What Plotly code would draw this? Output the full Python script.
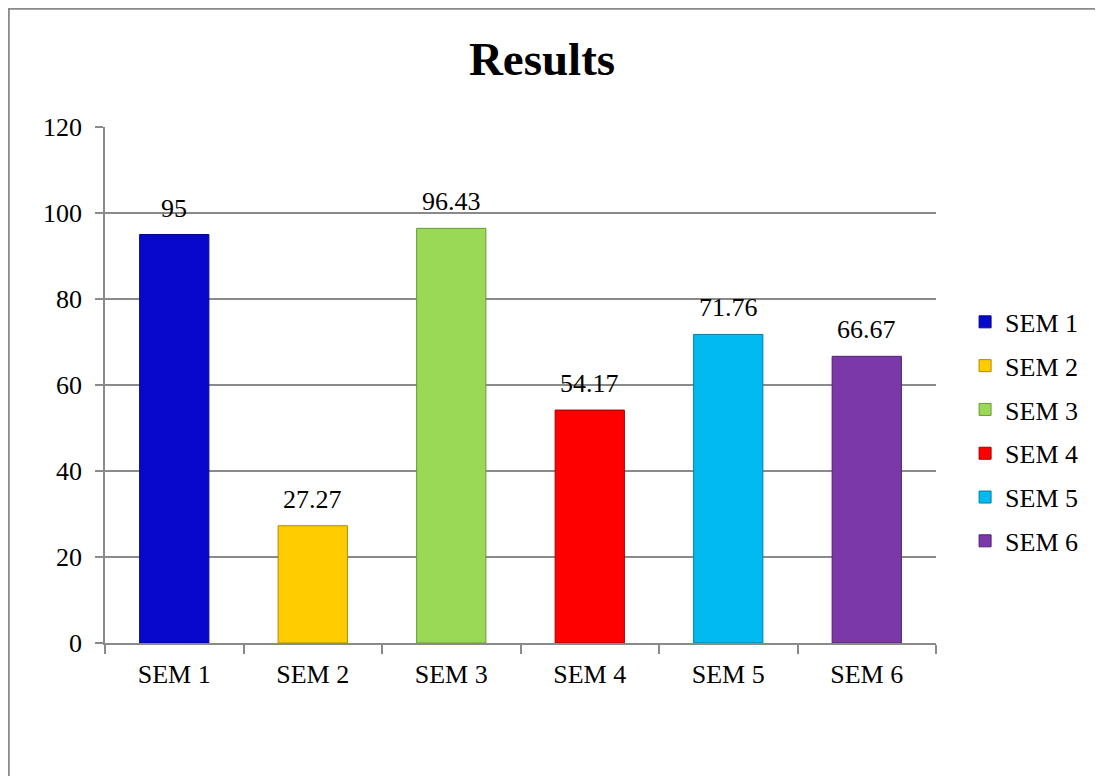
import plotly.graph_objects as go

categories = ["SEM 1", "SEM 2", "SEM 3", "SEM 4", "SEM 5", "SEM 6"]
values = [95, 27.27, 96.43, 54.17, 71.76, 66.67]
value_labels = ["95", "27.27", "96.43", "54.17", "71.76", "66.67"]
y_ticks = [0, 20, 40, 60, 80, 100, 120]

colors = ["#0808CC", "#FFCC00", "#99D955", "#FF0000", "#00BAF0", "#7A38A8"]
edge_colors = ["#05058a", "#b08a00", "#6a9a3a", "#a00000", "#0080a8", "#502070"]

FONT = "Liberation Serif, Times New Roman, serif"

fig = go.Figure()
for i, (cat, val) in enumerate(zip(categories, values)):
    fig.add_trace(go.Bar(
        x=[cat], y=[val], name=cat, width=0.5,
        marker=dict(color=colors[i], line=dict(color=edge_colors[i], width=1)),
        legendgroup=cat, showlegend=True,
    ))

for cat, val, lab in zip(categories, values, value_labels):
    fig.add_annotation(x=cat, y=val, text=lab, showarrow=False,
                       yanchor="bottom", yshift=10,
                       font=dict(family=FONT, size=26, color="#000"))

L, T = 97, 119
R, B = 1103 - 928, 776 - 635
W, H = 1103 - L - R, 776 - T - B

# outer chart border (left/top visible, right/bottom extend beyond view)
fig.add_shape(type="rect", xref="paper", yref="paper",
              x0=(0.8 - L) / W, x1=(1120 - L) / W,
              y0=(T + H - 800) / H, y1=(T + H - 0.8) / H,
              line=dict(color="#8a8a8a", width=2), fillcolor="rgba(0,0,0,0)",
              layer="below")

fig.update_layout(
    width=1103, height=776,
    margin=dict(l=L, r=R, t=T, b=B),
    paper_bgcolor="white", plot_bgcolor="white",
    barmode="overlay",
    font=dict(family=FONT, size=26, color="#000"),
    title=dict(text="<b>Results</b>", x=534 / 1103, xanchor="center",
               y=1 - 51 / 776, yanchor="middle", yref="container",
               font=dict(family=FONT, size=47, color="#000")),
    legend=dict(x=1.035, xanchor="left", y=0.41, yanchor="middle",
                font=dict(family=FONT, size=26, color="#000"),
                tracegroupgap=7, itemwidth=30, bgcolor="rgba(0,0,0,0)"),
    xaxis=dict(categoryorder="array", categoryarray=categories,
               showline=True, linecolor="#8a8a8a", linewidth=1.5,
               ticks="outside", tickson="boundaries", ticklen=9,
               tickcolor="#8a8a8a", tickwidth=1.5,
               showgrid=False, zeroline=False, ticklabelstandoff=7,
               tickfont=dict(family=FONT, size=26, color="#000")),
    yaxis=dict(range=[0, 120], tickvals=y_ticks,
               showline=True, linecolor="#8a8a8a", linewidth=1.5,
               ticks="outside", ticklen=8, tickcolor="#8a8a8a", tickwidth=1.5,
               showgrid=True, gridcolor="#8a8a8a", gridwidth=1.5,
               zeroline=False, ticklabelstandoff=8,
               tickfont=dict(family=FONT, size=26, color="#000")),
)

fig.write_html("out.html")
